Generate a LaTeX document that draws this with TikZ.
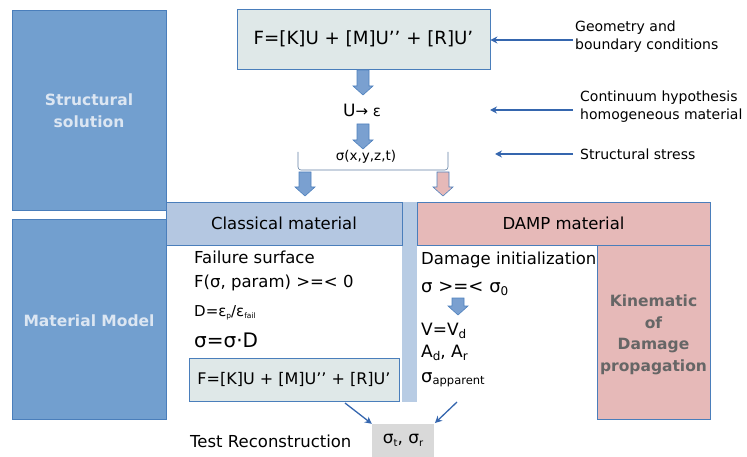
\documentclass[tikz,border=0pt]{standalone}
\usepackage{fontspec}
\setmainfont{DejaVu Sans}
\usetikzlibrary{arrows.meta}
\definecolor{sideblue}{HTML}{729FCF}
\definecolor{sideborder}{HTML}{4A7EBB}
\definecolor{sidetext}{HTML}{DCE6F2}
\definecolor{formfill}{HTML}{DFE8E8}
\definecolor{classfill}{HTML}{B4C7E1}
\definecolor{stripfill}{HTML}{B8CCE4}
\definecolor{dampfill}{HTML}{E6B9B8}
\definecolor{arrblue}{HTML}{7AA0D0}
\definecolor{arrborder}{HTML}{4F81BD}
\definecolor{conn}{HTML}{3566AE}
\definecolor{grayfill}{HTML}{D9D9D9}
\definecolor{kintext}{HTML}{666666}
\tikzset{
  sidebox/.style={draw=sideborder, fill=sideblue, line width=0.8pt},
  formbox/.style={draw=sideborder, fill=formfill, line width=0.8pt},
  hdrbox/.style={draw=sideborder, line width=0.8pt},
  conarrow/.style={draw=conn, line width=1.3pt, -{Stealth[length=7pt,width=7pt]}},
  txt/.style={inner sep=0pt, anchor=west, font=\fontsize{16.5}{18}\selectfont},
  sidelabel/.style={text=sidetext, font=\bfseries\fontsize{15.5}{22}\selectfont, align=center},
  rlabel/.style={inner sep=0pt, anchor=west, align=left, font=\fontsize{14}{18}\selectfont},
}
\newcommand\myblockarrow[4]{% x, ytop, ybot, fill
  \pgfmathsetmacro\hy{#3-9}
  \draw[draw=arrborder, fill=#4, line width=0.6pt]
    (#1-6,#2) -- (#1+6,#2) -- (#1+6,\hy) -- (#1+10,\hy) -- (#1,#3) -- (#1-10,\hy) -- (#1-6,\hy) -- cycle;
}
\newcommand\sbs[2]{\raisebox{-2.5pt}{\fontsize{#1}{#1}\selectfont #2}}
\begin{document}
\begin{tikzpicture}[x=1pt,y=-1pt]
\useasboundingbox (0,0) rectangle (747,457);
% left side boxes
\draw[sidebox] (12,10) rectangle (166,210);
\node[sidelabel] (ss) at (89,111) {Structural\\solution};
\draw[sidebox] (12,219) rectangle (166,419);
\node[sidelabel] (mm) at (89,321) {Material Model};
% top formula box
\node[formbox, minimum width=253pt, minimum height=60pt, font=\fontsize{18.2}{20}\selectfont] (topf) at (363.5,39) {F=[K]U + [M]U’’ + [R]U’};
% block arrows
\myblockarrow{363}{70}{95}{arrblue}
\node[inner sep=0pt] (ue) at (362,110) {\fontsize{17}{18}\selectfont U\fontsize{15}{18}\selectfont→ ε};
\myblockarrow{363}{124}{149}{arrblue}
\node[font=\fontsize{13.5}{15}\selectfont, inner sep=0pt] (sig) at (366,157) {σ(x,y,z,t)};
\draw[draw=arrborder!60!gray, line width=0.6pt, rounded corners=3pt] (298,152) -- (298,170) -- (448,170) -- (448,152);
\myblockarrow{305}{172}{196}{arrblue}
\myblockarrow{443}{172}{196}{dampfill}
% right labels
\node[rlabel] (geo) at (575,37) {Geometry and\\boundary conditions};
\node[rlabel] (cont) at (580,107) {Continuum hypothesis\\homogeneous material};
\node[rlabel] (sts) at (580,154) {Structural stress};
\coordinate (ga) at (573,40);
\coordinate (ca) at (573,110);
\coordinate (sa) at (573,154);
\draw[conarrow] (ga) -- (topf.east |- ga);
\draw[conarrow] (ca) -- (490,110);
\draw[conarrow] (sa) -- (495,154);
% strip
\fill[stripfill] (402,202) rectangle (417,402);
% headers
\node[hdrbox, fill=classfill, minimum width=236pt, minimum height=43pt, font=\fontsize{16.5}{18}\selectfont] (cls) at (284,223.5) {Classical material};
\node[hdrbox, fill=dampfill, minimum width=293pt, minimum height=43pt, font=\fontsize{16.5}{18}\selectfont] (damp) at (563.5,223.5) {DAMP material};
\node[hdrbox, fill=dampfill, minimum width=113pt, minimum height=174pt] (kin) at (653.5,332) {};
\node[text=kintext, align=center, font=\bfseries\fontsize{15.5}{21.5}\selectfont] (kint) at (653.5,335) {Kinematic\\of\\Damage\\propagation};
% classical text
\node[txt] (fs) at (194,257) {Failure surface};
\node[txt] (fp) at (194,283) {F(σ, param) >=< 0};
\node[txt, font=\fontsize{15}{16}\selectfont] (dd) at (194,313) {D=ε\sbs{7.5}{p}/ε\sbs{7.5}{fail}};
\node[txt, font=\fontsize{20}{22}\selectfont] (sd) at (194,340) {σ=σ·D};
\node[formbox, minimum width=210pt, minimum height=43pt, font=\fontsize{16}{18}\selectfont] (inf) at (294,379.5) {F=[K]U + [M]U’’ + [R]U’};
% damp text
\node[txt] (di) at (421,260) {Damage initialization};
\node[txt, font=\fontsize{18}{20}\selectfont] (s0) at (421,289) {σ >=< σ\sbs{12}{0}};
\myblockarrow{458}{298}{315}{arrblue}
\node[txt, font=\fontsize{17}{20}\selectfont] (vv) at (421,331) {V=V\sbs{12}{d}};
\node[txt, font=\fontsize{17}{20}\selectfont] (aa) at (421,353) {A\sbs{12}{d}, A\sbs{12}{r}};
\node[txt, font=\fontsize{18}{20}\selectfont] (sa2) at (421,380) {σ\sbs{11.5}{apparent}};
% bottom
\node[txt] (tr) at (190,441) {Test Reconstruction};
\node[fill=grayfill, minimum width=62pt, minimum height=33pt, font=\fontsize{17}{18}\selectfont] (res) at (403,440.5) {σ\sbs{10}{t}, σ\sbs{10}{r}};
\coordinate (c1) at (345,403);
\coordinate (c2) at (457,402);
\draw[conarrow] (c1) -- (res.north west);
\draw[conarrow] (c2) -- (435,423);
\end{tikzpicture}
\end{document}
